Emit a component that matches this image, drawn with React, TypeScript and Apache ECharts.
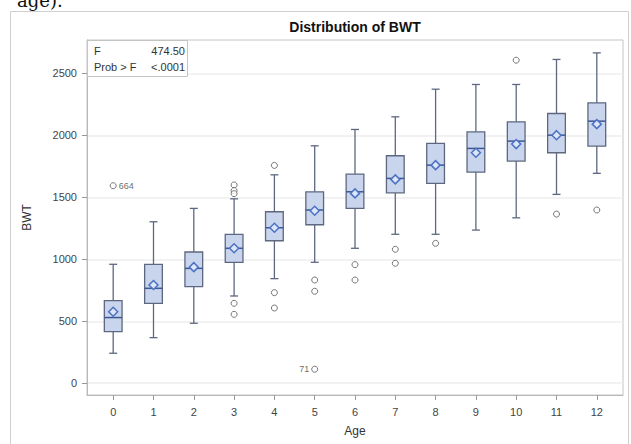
import React, { useEffect, useRef } from "react";
import * as echarts from "echarts";

const ages = [0, 1, 2, 3, 4, 5, 6, 7, 8, 9, 10, 11, 12];
const lowerWhisker = [242, 368, 484, 704, 844, 976, 1089, 1202, 1202, 1236, 1335, 1524, 1694];
const q1 = [416, 645, 779, 976, 1150, 1279, 1411, 1537, 1613, 1704, 1793, 1860, 1914];
const median = [530, 766, 927, 1089, 1255, 1398, 1545, 1653, 1760, 1895, 1954, 2002, 2115];
const q3 = [666, 960, 1059, 1202, 1384, 1545, 1688, 1836, 1935, 2029, 2110, 2177, 2263];
const upperWhisker = [960, 1303, 1411, 1488, 1682, 1916, 2048, 2150, 2373, 2411, 2411, 2613, 2666];
const means = [577, 793, 937, 1089, 1255, 1392, 1532, 1645, 1760, 1860, 1930, 2002, 2091];

const outlierAge = [0, 3, 3, 3, 3, 3, 4, 4, 4, 5, 5, 5, 6, 6, 7, 7, 8, 10, 11, 12];
const outlierBWT = [1594, 1600, 1555, 1530, 645, 556, 1758, 731, 607, 833, 742, 113, 957, 833, 1081, 968, 1129, 2607, 1365, 1398];
const outlierLabel = ["664", "", "", "", "", "", "", "", "", "", "", "71", "", "", "", "", "", "", "", ""];

const yTicks = [0, 500, 1000, 1500, 2000, 2500];
const statNames = ["F", "Prob > F"];
const statValues = ["474.50", "<.0001"];

const FONT = "'Liberation Sans', Arial, sans-serif";

export default function App() {
  const ref = useRef<HTMLDivElement>(null);
  useEffect(() => {
    document.body.style.margin = "0";
    const chart = echarts.init(ref.current!, null, { renderer: "svg" });
    const boxData = ages.map((a, i) => [a, lowerWhisker[i], q1[i], median[i], q3[i], upperWhisker[i], means[i]]);
    const outData = outlierAge.map((a, i) => ({
      value: [a, outlierBWT[i]],
      label: outlierLabel[i]
        ? {
            show: true,
            formatter: outlierLabel[i],
            position: outlierLabel[i] === "71" ? "left" : "right",
            distance: 2,
            fontSize: 9,
            color: "#444",
            fontFamily: FONT,
          }
        : { show: false },
    }));
    const stroke = "#5d6880";
    chart.setOption({
      animation: false,
      grid: { left: 87, right: 8, top: 40, bottom: 49, show: true, borderColor: "#c4c4c4", borderWidth: 1 },
      xAxis: {
        type: "value",
        min: -0.65,
        max: 12.65,
        name: "Age",
        nameLocation: "middle",
        nameGap: 30,
        nameTextStyle: { fontSize: 12, color: "#333", fontFamily: FONT },
        axisLine: { show: true, onZero: false, lineStyle: { color: "#b8b8b8" } },
        axisTick: { show: true, length: 5, customValues: ages, lineStyle: { color: "#999" } },
        axisLabel: { customValues: ages, fontSize: 11, color: "#444", margin: 11, fontFamily: FONT, formatter: (v: number) => String(v) },
        splitLine: { show: false },
      },
      yAxis: {
        type: "value",
        min: -95,
        max: 2770,
        name: "BWT",
        nameLocation: "middle",
        nameGap: 54,
        nameTextStyle: { fontSize: 12, color: "#333", fontFamily: FONT },
        axisLine: { show: true, onZero: false, lineStyle: { color: "#b8b8b8" } },
        axisTick: { show: true, length: 5, customValues: yTicks, lineStyle: { color: "#999" } },
        axisLabel: { customValues: yTicks, fontSize: 11, color: "#444", margin: 10, fontFamily: FONT, formatter: (v: number) => String(v) },
        splitLine: { show: true, lineStyle: { color: "#eeeeee", width: 1.5 } },
      },
      graphic: [
        {
          type: "rect",
          shape: { x: 10.5, y: 11.5, width: 618, height: 460 },
          style: { fill: "none", stroke: "#cfcfcf", lineWidth: 1 },
          silent: true,
        },
        {
          type: "text",
          x: 17,
          y: 9,
          style: { text: "age).", fontSize: 18, fontFamily: "'DejaVu Serif', 'Liberation Serif', serif", fill: "#111", verticalAlign: "bottom" },
        },
        {
          type: "text",
          x: 355,
          y: 27,
          style: { text: "Distribution of BWT", fontSize: 14, fontWeight: "bold", fontFamily: FONT, fill: "#111", align: "center", verticalAlign: "middle" },
        },
        {
          type: "rect",
          shape: { x: 87.5, y: 40.5, width: 100, height: 36 },
          style: { fill: "#fff", stroke: "#c4c4c4", lineWidth: 1 },
          z: 10,
        },
        ...statNames.map((s, i) => ({
          type: "text",
          x: 94,
          y: 51 + i * 16,
          z: 11,
          style: { text: s, fontSize: 11, fontFamily: FONT, fill: "#333", verticalAlign: "middle" },
        })),
        ...statValues.map((s, i) => ({
          type: "text",
          x: 185,
          y: 51 + i * 16,
          z: 11,
          style: { text: s, fontSize: 11, fontFamily: FONT, fill: "#333", align: "right", verticalAlign: "middle" },
        })),
      ],
      series: [
        {
          type: "custom",
          data: boxData,
          encode: { x: 0, y: [1, 2, 3, 4, 5, 6] },
          renderItem: (params: any, api: any) => {
            const x = api.value(0);
            const lo = api.coord([x, api.value(1)]);
            const b1 = api.coord([x, api.value(2)]);
            const md = api.coord([x, api.value(3)]);
            const b3 = api.coord([x, api.value(4)]);
            const hi = api.coord([x, api.value(5)]);
            const mn = api.coord([x, api.value(6)]);
            const bw = api.size([1, 0])[0] * 0.44;
            const cx = lo[0];
            const cap = 4;
            const ls = { stroke: stroke, lineWidth: 1.3 };
            const d = 4.5;
            return {
              type: "group",
              children: [
                { type: "line", shape: { x1: cx, y1: hi[1], x2: cx, y2: b3[1] }, style: ls },
                { type: "line", shape: { x1: cx, y1: b1[1], x2: cx, y2: lo[1] }, style: ls },
                { type: "line", shape: { x1: cx - cap, y1: hi[1], x2: cx + cap, y2: hi[1] }, style: ls },
                { type: "line", shape: { x1: cx - cap, y1: lo[1], x2: cx + cap, y2: lo[1] }, style: ls },
                {
                  type: "rect",
                  shape: { x: cx - bw / 2, y: b3[1], width: bw, height: b1[1] - b3[1] },
                  style: { fill: "#c9d5ec", stroke: stroke, lineWidth: 1.3 },
                },
                { type: "line", shape: { x1: cx - bw / 2, y1: md[1], x2: cx + bw / 2, y2: md[1] }, style: { stroke: "#3e5896", lineWidth: 1.5 } },
                {
                  type: "polygon",
                  shape: { points: [[cx, mn[1] - d], [cx + d, mn[1]], [cx, mn[1] + d], [cx - d, mn[1]]] },
                  style: { fill: "#dce6f7", stroke: "#4d72c4", lineWidth: 1.5 },
                },
              ],
            };
          },
          z: 3,
        },
        {
          type: "scatter",
          data: outData,
          symbol: "circle",
          symbolSize: 6,
          itemStyle: { color: "#fff", borderColor: "#555", borderWidth: 1 },
          z: 4,
        },
      ],
    });
    return () => chart.dispose();
  }, []);
  return <div ref={ref} style={{ position: "absolute", left: 0, top: 0, width: 631, height: 444 }} />;
}
